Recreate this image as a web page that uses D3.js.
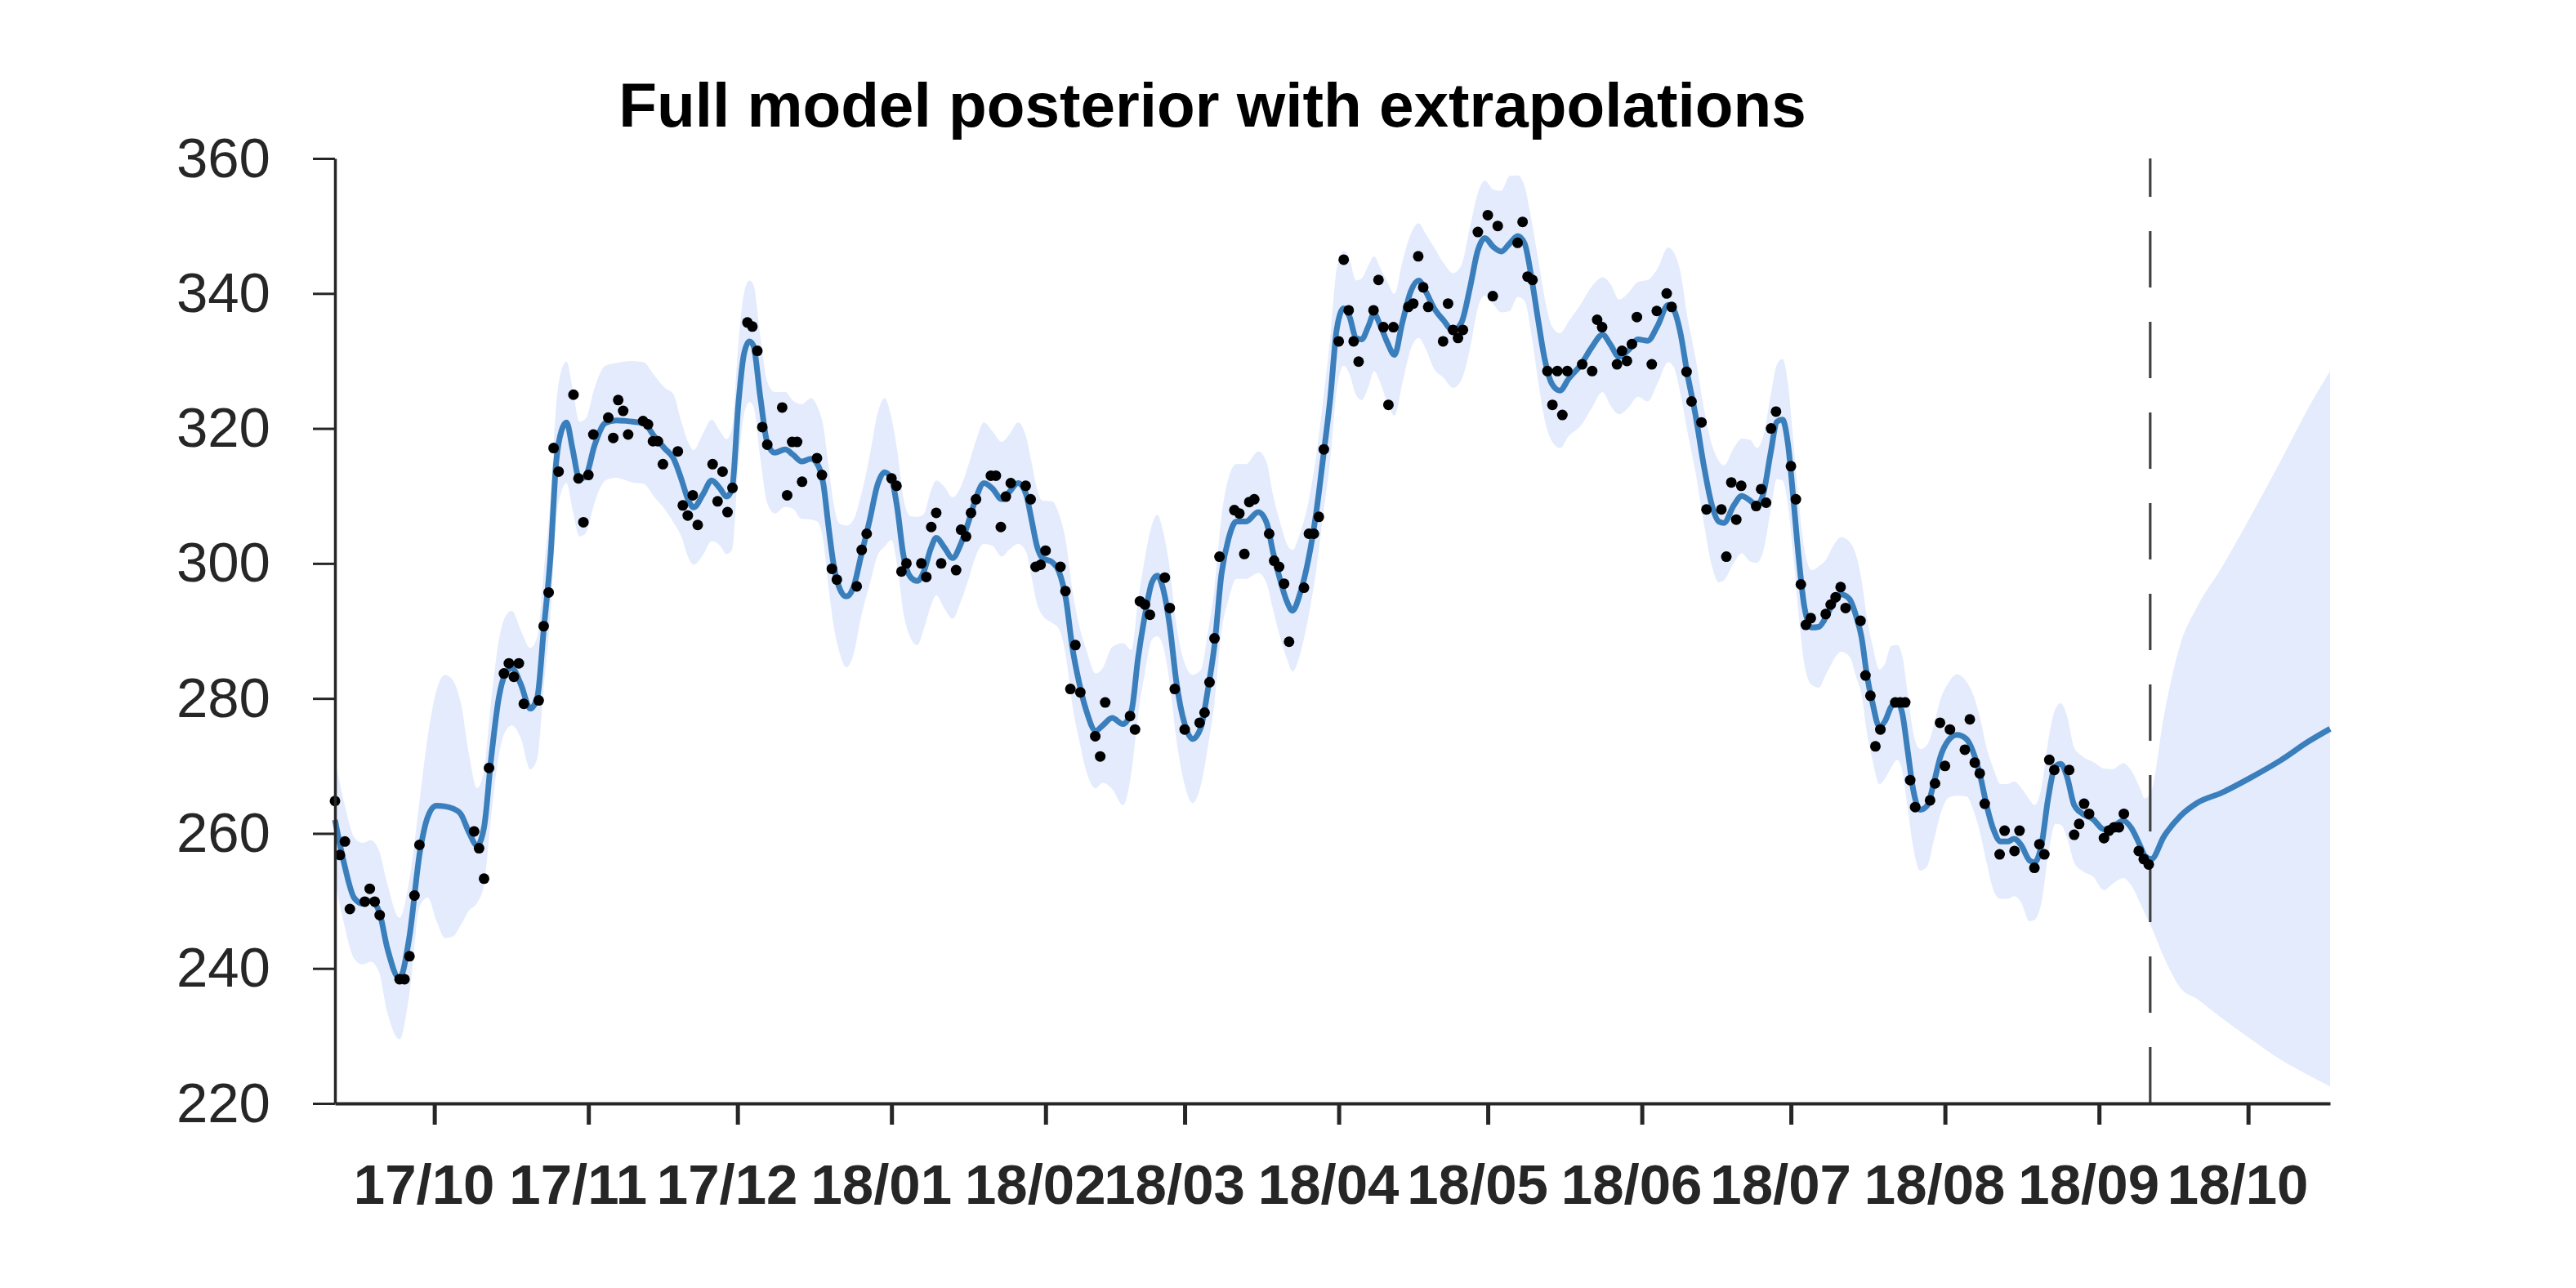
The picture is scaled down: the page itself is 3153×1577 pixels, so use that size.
<!DOCTYPE html>
<html>
<head>
<meta charset="utf-8">
<script src="https://cdn.jsdelivr.net/npm/d3@7"></script>
<style>
html,body{margin:0;padding:0;background:#fff;}
svg{display:block;}
</style>
</head>
<body>
<svg id="chart" width="3153" height="1577"></svg>
<script>
// ---------------- DATA ----------------
// Days are counted from 2017-10-01 (day 0).
const baseDateStr = "2017-10-01";
const startDay = -20;          // left edge of the plot
const endDay = 381.5;          // right edge of the plot (extrapolation end)
const forecastStartDay = 345.3; // last observation / dashed line

const obsDays = [
  -20,-19,-18,-17, -14,-13,-12,-11, -7,-6,-5,-4,-3,
  8,9,10,11, 14,15,16,17,18, 21,22,23,24,25, 28,29,30,31,32,
  35,36,37,38,39, 42,43,44,45,46, 49,50,51,52,53, 56,57,58,59,60,
  63,64,65,66,67, 70,71,72,73,74, 77,78,80,81, 85,86,87,
  92,93,94,95, 98,99,100,101,102, 105,106,107,108,109, 112,113,114,115,116,
  119,120,121,122,123, 126,127,128,129,130, 133,134,135, 140,141,142,143,144,
  147,148,149,151, 154,155,156,157,158, 161,162,163,164,165, 168,169,170,171,172,
  175,176,177,178,179, 182,183,184,185,186, 189,190,191,192,193, 196,197,198,199,200,
  203,204,205,206,207, 210,212,213,214, 218,219,220,221, 224,225,226,227,228,
  231,233,234,235, 238,239,240,241,242, 245,246,248,249, 252,253,255,256,
  259,260,261,262,263, 266,267,268,269,270, 273,274,275,276,277, 280,281,282,283,284,
  287,288,289,290,291, 294,295,296,297,298, 301,302,303,304,305, 308,309,310,311,312,
  315,316,318,319, 322,323,324,325,326, 329,330,331,332,333, 336,337,338,339,340,
  343,344,345
];
const obsValues = [
  264.8,256.8,258.8,248.8, 249.9,251.8,249.9,247.9, 238.4,238.4,241.8,250.8,258.3,
  260.3,257.8,253.3,269.7, 283.7,285.2,283.2,285.2,279.2, 279.7,290.7,295.7,317.1,313.6, 325.0,312.6,306.1,313.1,319.1,
  321.6,318.6,324.2,322.6,319.1, 321.1,320.6,318.1,318.1,314.7, 316.6,308.6,307.1,310.1,305.7, 314.7,309.2,313.6,307.6,311.2,
  335.7,335.1,331.5,320.2,317.6, 323.1,310.1,318.0,318.0,312.1, 315.6,313.1,299.2,297.6, 296.6,302.0,304.4,
  312.6,311.5,298.8,300.0, 300.0,298.0,305.4,307.5,300.0, 299.0,305.0,304.0,307.5,309.5, 313.0,313.0,305.4,309.9,311.9,
  311.5,309.5,299.5,299.8,301.9, 299.5,295.9,281.4,287.9,280.9, 274.4,271.4,279.4, 277.4,275.4,294.4,293.9,292.4,
  297.9,293.4,281.4,275.4, 276.4,277.9,282.4,288.9,301.0, 307.9,307.4,301.4,309.1,309.5, 304.4,300.4,299.5,297.0,288.4,
  296.4,304.4,304.4,306.9,316.9, 332.9,345.0,337.5,332.9,329.9, 337.5,342.0,335.0,323.5,335.0, 338.0,338.5,345.5,340.9,338.0,
  332.9,338.5,334.6,333.4,334.6, 349.1,351.6,339.6,350.0, 347.5,350.6,342.5,342.0, 328.5,323.5,328.5,322.0,328.5,
  329.5,328.5,336.1,335.0, 329.5,331.5,330.0,332.5,336.5, 329.5,337.4,340.0,338.0, 328.4,324.0,320.9,308.0,
  308.0,301.0,312.0,306.5,311.5, 308.5,311.0,309.0,320.0,322.5, 314.4,309.5,296.9,290.9,291.9, 292.5,293.9,295.0,296.5,293.4,
  291.5,283.4,280.4,272.9,275.4, 279.4,279.4,279.4,267.9,263.9, 264.9,267.4,276.4,270.0,275.4, 272.4,276.9,270.5,268.9,264.4,
  256.9,260.4,257.4,260.4, 254.9,258.4,256.9,270.9,269.4, 269.4,259.8,261.4,264.4,262.9, 259.3,260.4,260.9,260.9,262.9,
  257.4,256.2,255.4
];

// Posterior mean and half-width (2 sigma) of the credible band
const meanDays = [
  -20,-18.3,-16.1,-14.4,-12.8,-11.1,-9.5,-7,-5.1,-2.9,-1.3,0.4,2.2,3.7,5.3,7,8.6,10,11.4,13,
  14.2,15.6,17.4,19.3,20.7,22,23.4,24.5,25.6,26.6,27.8,29.2,30.5,32.2,34.4,36.6,39.9,42.1,44.3,46.4,
  48.1,49.7,51.1,52.2,54.1,55.8,57.4,58.8,59.9,61.2,62.3,63.4,64.2,65.6,67,68.5,70.6,72.2,73.9,75.8,
  77.1,78.3,79.3,80.4,81.5,82.9,84.3,85.9,87.6,89.2,90.6,92,93.1,94.4,95.8,97.2,98.5,99.9,101,102.6,
  104.3,105.9,107.6,109,110.6,112.3,114.2,115.6,117.5,119.1,120.2,121.3,122.4,124.3,125.7,127.1,128.4,129.8,131.2,133.1,
  134.5,136.4,138.6,140.3,141.6,143,144.4,145.5,146.6,148,149.3,151,152.6,154.3,155.6,157,158.4,159.8,161.4,163.3,
  165.8,167.5,168.8,170.2,171.6,172.7,174.2,175.9,177.5,178.9,180.3,181.6,183,184.1,185.5,186.6,188,189.1,190.4,191.8,
  193.2,194.8,196.5,198.1,199.5,201.2,203.1,205,206.7,208.4,210,211.4,213.1,214.7,216.4,218,219.4,220.8,222.1,223.5,
  224.9,226.5,228.3,230.7,232.9,235.1,236.7,238.4,240.3,242.2,244.2,246.1,248.3,249.4,250.8,252.1,253.8,255.4,257.1,258.5,
  259.5,261.5,263.1,264.8,266.1,267.5,268.9,270.2,271.3,272.4,273.5,274.6,275.7,277.2,278.6,280,281.2,283.1,284.8,286.2,
  287.2,288.3,289.4,290.8,291.9,293.2,294.4,295.4,296.5,297.6,299,300.4,301.7,303.1,304.7,306.4,308.3,309.7,311.1,312.4,
  313.8,315.2,316.6,317.9,319.3,321,322,323.5,324.7,326.2,327.3,328.6,330,331.7,333.8,336,337.7,339.9,341.5,343.2,
  344.2,345.5,348.1,351.4,354.7,359.6,365.6,371.7,377.1,381.5
];
const meanValues = [
  262,256,250.4,249.6,250,248.4,243.1,238.5,244.3,257.3,262.5,264.1,264.0,263.7,262.9,260.1,258.2,260.9,270.9,280.2,
  283.5,284.5,282.1,278.5,280.1,290.1,301.3,314.8,319.7,320.9,317,312.5,313,317.4,320.8,321.2,321,320.8,318.8,317,
  315.6,312.5,309.4,308.3,310.3,312.3,311.2,309.9,311,323.8,331,332.9,332.3,324.6,317.9,316.4,316.9,316.1,315.1,315.5,
  314.7,311.7,305.6,299.6,296.4,295.1,296.4,301.2,306.4,311.7,313.5,312.5,308.5,301.2,298,297.4,298.8,302.2,303.8,302.4,
  300.8,302.8,306.4,309.7,311.9,311.1,309.5,310.5,311.9,310.2,306.4,302.5,300.8,300.2,298.8,294.7,287.5,282.2,278.2,275.2,
  276,277.1,276.2,278.2,285.9,292.3,297.2,298.2,296.4,290.7,282.6,276.2,274,275.8,281,287.9,298.4,303.6,306.2,306.2,
  307.6,306,301.6,297.6,294.3,293.0,295.5,300.6,307.7,315.9,324.5,334.7,337.8,336.7,333.4,333.2,335.2,337,335.2,332.7,
  330.9,335.7,340.3,341.9,340.3,337.8,336,334.5,335.7,340.8,346.4,348.2,346.9,346.2,347.4,348.5,347.4,342.3,336.2,330.1,
  326.6,325.6,327.4,329.4,332,333.9,332.4,330.6,331.6,333.2,333,335.1,338.3,337.6,334,328.3,322,314.8,308.6,306.2,
  306,308.6,310,309.3,308.6,310.5,316.3,321,321.3,317.7,309.5,300.6,293.6,290.5,290.6,292,293.7,295.4,294.7,292,
  289.1,283.4,279.4,275.8,276.6,278.8,279.4,277.8,272.2,266.5,263.5,264.1,267.3,271.4,273.8,274.6,274,272,268.5,264.1,
  260.5,258.8,258.8,259.2,258.3,256,255.7,258.6,264.9,269.9,270.3,268.3,264.2,262.9,262.1,260.6,261,261.9,260.8,258.3,
  256.7,256.2,259.6,262.6,264.5,266,268.3,270.9,273.6,275.5
];
const bandHalfWidth = [
  9,9,9,9,9,9,9.5,9,8.5,8,12,17,19.5,19,16.5,11.5,8.5,8.5,8.5,8.5,
  8.5,8.5,8,9,9,8.5,8.5,8.5,9,9,9,8.5,8.5,8.5,8.5,8.5,9,9,9,9,
  9.5,8.5,8.5,8.5,9,9,8.5,8.5,9,9,9,9,9,9,9,9,8.5,8,8.5,9,
  8.5,8.5,9,9,9.5,10.5,10,9,9.5,10.5,11,9,8.5,8.5,9,9.5,8.5,8.5,8.5,9,
  9,8.5,8.5,8.5,9,8.5,8.5,8.5,9,8.5,8.5,8.5,8.5,9,8.5,8.5,8.5,8.5,9,8.5,
  8.5,10.5,12,9,8.5,8.5,8.5,9,8.5,8.5,8.5,9,9.5,8.5,8.5,8.5,8.5,9,8.5,8.5,
  9,9,8.5,8.5,8.5,9,9,8.5,8.5,8.5,9,9,8.5,8.5,8.5,9,9,8.5,8.5,9,
  9,9,8.5,8.5,8.5,9,8.5,8.5,8.5,9,8.5,8.5,8.5,9,10,9,8.5,8.5,9,9,
  8.5,8.5,8.5,9,9,8.5,9,8.5,8.5,8.5,9,8.5,8.5,8.5,9,8.5,8.5,8.5,9,9,
  8.5,8.5,8.5,9,8.5,8.5,8.5,8.5,9,9,8.5,8.5,8.5,8.5,9,8.5,8.5,8.5,8.5,9,
  8.5,8.5,8.5,8.5,8.5,9,8.5,8.5,8.5,8.5,9,9,8.5,8.5,8.5,9,8.5,8.5,8.5,8.5,
  9,8.5,8.5,8.5,8.5,9,8.5,8.5,8.5,8.5,9,9,8.5,8.5,8.5,9,8.5,8.5,8.5,8.5,
  8.5,10,18,25.5,29,33.3,38.8,44.5,49.4,53
];

const yTicks = [220, 240, 260, 280, 300, 320, 340, 360];
const xTickDates = ["2017-10-01","2017-11-01","2017-12-01","2018-01-01","2018-02-01","2018-03-01",
  "2018-04-01","2018-05-01","2018-06-01","2018-07-01","2018-08-01","2018-09-01","2018-10-01"];
const xTickLabels = ["17/10","17/11","17/12","18/01","18/02","18/03","18/04","18/05","18/06","18/07","18/08","18/09","18/10"];
const titleText = "Full model posterior with extrapolations";

// ---------------- DRAWING ----------------
const W = 3153, H = 1577;
const plot = {left: 410, right: 2852, top: 194, bottom: 1351};
const fontFam = "'Liberation Sans', Arial, Helvetica, sans-serif";
const parse = d3.timeParse("%Y-%m-%d");
const base = parse(baseDateStr);
const dayToDate = d => new Date(base.getTime() + d * 86400000);

const svg = d3.select("#chart");
svg.append("rect").attr("width", W).attr("height", H).attr("fill", "#ffffff");

const x = d3.scaleTime()
  .domain([dayToDate(startDay), dayToDate(endDay)])
  .range([plot.left, plot.right]);
const y = d3.scaleLinear()
  .domain([220, 360])
  .range([plot.bottom, plot.top]);

const post = meanDays.map((d, i) => ({
  t: dayToDate(d),
  m: meanValues[i],
  lo: meanValues[i] - bandHalfWidth[i],
  hi: meanValues[i] + bandHalfWidth[i]
}));

// credible band
svg.append("path")
  .datum(post)
  .attr("fill", "#e3ebfc")
  .attr("stroke", "none")
  .attr("d", d3.area()
    .x(p => x(p.t))
    .y0(p => y(p.lo))
    .y1(p => y(p.hi))
    .curve(d3.curveMonotoneX));

// dashed line at end of observations (dashes start from the bottom)
const xf = x(dayToDate(forecastStartDay));
svg.append("line")
  .attr("x1", xf).attr("x2", xf)
  .attr("y1", y(220)).attr("y2", y(360))
  .attr("stroke", "#404040")
  .attr("stroke-width", 3.2)
  .attr("stroke-dasharray", "69,42");

// posterior mean
svg.append("path")
  .datum(post)
  .attr("fill", "none")
  .attr("stroke", "#3a7fbc")
  .attr("stroke-width", 7)
  .attr("stroke-linejoin", "round")
  .attr("d", d3.line()
    .x(p => x(p.t))
    .y(p => y(p.m))
    .curve(d3.curveMonotoneX));

// observations
svg.append("g")
  .selectAll("circle")
  .data(obsDays.map((d, i) => ({t: dayToDate(d), v: obsValues[i]})))
  .join("circle")
  .attr("cx", p => x(p.t))
  .attr("cy", p => y(p.v))
  .attr("r", 6.5)
  .attr("fill", "#000000");

// y axis
const gy = svg.append("g")
  .attr("transform", `translate(${plot.left},0)`)
  .call(d3.axisLeft(y).tickValues(yTicks).tickSize(27).tickSizeOuter(0).tickPadding(52).tickFormat(d3.format("d")));
gy.style("color", "#262626")
  .attr("font-family", fontFam)
  .attr("font-size", 69);
gy.select(".domain").attr("stroke-width", 3.5);
gy.selectAll(".tick line").attr("stroke-width", 3);

// x axis
const xTicks = xTickDates.map(s => parse(s));
const gx = svg.append("g")
  .attr("transform", `translate(0,${plot.bottom})`)
  .call(d3.axisBottom(x).tickValues(xTicks).tickSize(26).tickSizeOuter(0).tickPadding(48)
    .tickFormat((d, i) => xTickLabels[i]));
gx.style("color", "#262626")
  .attr("font-family", fontFam)
  .attr("font-size", 69)
  .attr("font-weight", "bold");
gx.select(".domain").attr("stroke-width", 4);
gx.selectAll(".tick line").attr("stroke-width", 5);
gx.selectAll(".tick text").attr("dx", -13);

// title
svg.append("text")
  .attr("x", 1484)
  .attr("y", 155)
  .attr("text-anchor", "middle")
  .attr("font-family", fontFam)
  .attr("font-size", 76.5)
  .attr("font-weight", "bold")
  .attr("fill", "#000000")
  .text(titleText);
</script>
</body>
</html>
